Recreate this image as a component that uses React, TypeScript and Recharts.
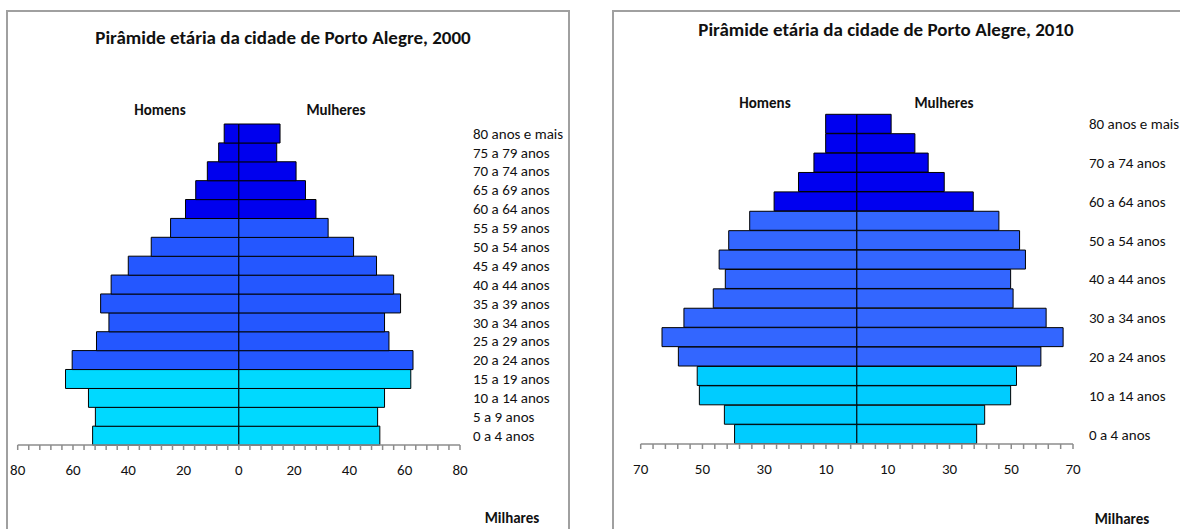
import React from "react";
import { BarChart, Bar, XAxis, YAxis, Cell } from "recharts";

// faixas etárias, de baixo (0 a 4) para cima (80+)
const faixas = [
  "0 a 4 anos",
  "5 a 9 anos",
  "10 a 14 anos",
  "15 a 19 anos",
  "20 a 24 anos",
  "25 a 29 anos",
  "30 a 34 anos",
  "35 a 39 anos",
  "40 a 44 anos",
  "45 a 49 anos",
  "50 a 54 anos",
  "55 a 59 anos",
  "60 a 64 anos",
  "65 a 69 anos",
  "70 a 74 anos",
  "75 a 79 anos",
  "80 anos e mais",
];

// milhares de habitantes
const homens2000 = [52.9, 51.9, 54.4, 62.7, 60.3, 51.5, 47.0, 50.0, 46.2, 40.0, 31.7, 24.7, 19.3, 15.6, 11.4, 7.3, 5.3];
const mulheres2000 = [51.0, 50.2, 52.7, 62.2, 63.0, 54.3, 52.7, 58.5, 56.0, 49.8, 41.5, 32.3, 27.9, 24.1, 20.7, 13.7, 14.9];
const homens2010 = [39.6, 42.9, 51.0, 51.7, 57.8, 63.1, 56.0, 46.5, 42.6, 44.6, 41.5, 34.7, 26.8, 18.9, 13.9, 10.1, 10.1];
const mulheres2010 = [38.8, 41.4, 49.8, 51.7, 59.6, 66.8, 61.3, 50.6, 49.8, 54.6, 52.7, 46.0, 37.7, 28.3, 23.1, 18.8, 11.1];

const rotulos2000 = [-80, -60, -40, -20, 0, 20, 40, 60, 80];
const rotulos2010 = [-70, -50, -30, -10, 10, 30, 50, 70];

const FONTE = "Carlito, Calibri, Lato, 'Open Sans', sans-serif";

function marcas(min: number, max: number, passo: number) {
  const out: number[] = [];
  for (let v = min; v <= max + 0.001; v += passo) out.push(v);
  return out;
}

function corFaixa(i: number, cores: string[]) {
  if (i < 4) return cores[0];
  if (i < 12) return cores[1];
  return cores[2];
}

function Piramide({
  homens,
  mulheres,
  limite,
  rotulos,
  cores,
  width,
  height,
  margin,
  intervalo,
  rotuloDx,
  fonte,
}: {
  homens: number[];
  mulheres: number[];
  limite: number;
  rotulos: number[];
  cores: string[];
  width: number;
  height: number;
  margin: { top: number; right: number; bottom: number; left: number };
  intervalo: number;
  rotuloDx: number;
  fonte: number;
}) {
  const data = faixas.map((faixa, i) => ({
    faixa,
    homens: -homens[i],
    mulheres: mulheres[i],
  }));
  return (
    <BarChart
      width={width}
      height={height}
      data={data}
      layout="vertical"
      stackOffset="sign"
      barCategoryGap={0}
      margin={margin}
    >
      <XAxis
        type="number"
        domain={[-limite, limite]}
        ticks={marcas(-limite, limite, 4)}
        interval={0}
        allowDataOverflow
        height={40}
        tickSize={5}
        tickMargin={14}
        axisLine={{ stroke: "#8c8c8c", strokeWidth: 1.5 }}
        tickLine={{ stroke: "#8c8c8c", strokeWidth: 1.5 }}
        tick={(p: any) =>
          rotulos.includes(p.payload.value) ? (
            <text
              x={p.x}
              y={p.y}
              dy="0.71em"
              textAnchor="middle"
              fontSize={15}
              fill="#111"
              fontFamily={FONTE}
            >
              {Math.abs(p.payload.value)}
            </text>
          ) : (
            <g />
          )
        }
      />
      <YAxis
        type="category"
        dataKey="faixa"
        orientation="right"
        reversed
        width={110}
        interval={intervalo}
        axisLine={false}
        tickLine={false}
        tickSize={0}
        tickMargin={0}
        tick={(p: any) => (
          <text
            x={p.x + rotuloDx}
            y={p.y}
            dy="0.35em"
            textAnchor="start"
            fontSize={fonte}
            fill="#111"
            fontFamily={FONTE}
          >
            {p.payload.value}
          </text>
        )}
      />
      <Bar dataKey="homens" stackId="p" stroke="#000" strokeWidth={1} isAnimationActive={false}>
        {data.map((_, i) => (
          <Cell key={i} fill={corFaixa(i, cores)} />
        ))}
      </Bar>
      <Bar dataKey="mulheres" stackId="p" stroke="#000" strokeWidth={1} isAnimationActive={false}>
        {data.map((_, i) => (
          <Cell key={i} fill={corFaixa(i, cores)} />
        ))}
      </Bar>
    </BarChart>
  );
}

function Rotulo({ x, y, size, bold, children }: { x: number; y: number; size: number; bold?: boolean; children: React.ReactNode }) {
  return (
    <div
      style={{
        position: "absolute",
        left: x,
        top: y,
        transform: "translate(-50%, -50%)",
        whiteSpace: "nowrap",
        fontSize: size,
        fontWeight: bold ? 700 : 400,
        color: "#111",
      }}
    >
      {children}
    </div>
  );
}

export default function App() {
  return (
    <div
      style={{
        position: "fixed",
        left: 0,
        top: 0,
        width: 1180,
        height: 529,
        overflow: "hidden",
        background: "#fff",
        fontFamily: FONTE,
      }}
    >
      {/* molduras */}
      <div style={{ position: "absolute", left: 6, top: 10, width: 560, height: 540, border: "2px solid #a0a0a0" }} />
      <div style={{ position: "absolute", left: 612, top: 10, width: 600, height: 540, border: "2px solid #a0a0a0" }} />

      <div style={{ position: "absolute", left: 0, top: 0 }}>
        <Piramide
          homens={homens2000}
          mulheres={mulheres2000}
          limite={80}
          rotulos={rotulos2000}
          cores={["#00d9ff", "#2457ff", "#0000ee"]}
          width={575}
          height={529}
          margin={{ top: 124, right: 5, bottom: 44, left: 17.7 }}
          intervalo={0}
          rotuloDx={13}
          fonte={15}
        />
      </div>
      <div style={{ position: "absolute", left: 600, top: 0 }}>
        <Piramide
          homens={homens2010}
          mulheres={mulheres2010}
          limite={70}
          rotulos={rotulos2010}
          cores={["#00ccff", "#3366ff", "#0000f0"]}
          width={583}
          height={529}
          margin={{ top: 114.3, right: 0, bottom: 45, left: 40.7 }}
          intervalo={1}
          rotuloDx={16}
          fonte={15}
        />
      </div>

      <Rotulo x={283} y={37} size={19} bold>Pirâmide etária da cidade de Porto Alegre, 2000</Rotulo>
      <Rotulo x={160} y={110} size={15} bold>Homens</Rotulo>
      <Rotulo x={336} y={110} size={15} bold>Mulheres</Rotulo>
      <Rotulo x={512} y={518} size={15} bold>Milhares</Rotulo>

      <Rotulo x={886} y={29} size={19} bold>Pirâmide etária da cidade de Porto Alegre, 2010</Rotulo>
      <Rotulo x={765} y={103} size={15} bold>Homens</Rotulo>
      <Rotulo x={944} y={103} size={15} bold>Mulheres</Rotulo>
      <Rotulo x={1122} y={519} size={15} bold>Milhares</Rotulo>
    </div>
  );
}
